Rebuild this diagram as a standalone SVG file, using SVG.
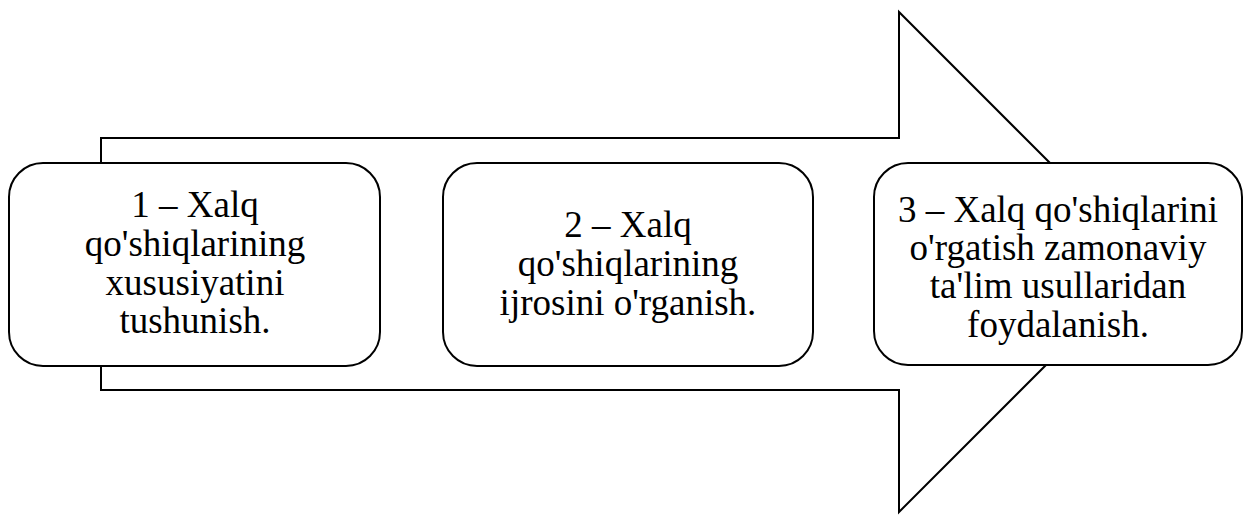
<svg xmlns="http://www.w3.org/2000/svg" width="1245" height="515" viewBox="0 0 1245 515">
<style>
.box{fill:#fff;stroke:#000;stroke-width:2}
.arrow{fill:#fff;stroke:#000;stroke-width:2}
text{font-family:"Liberation Serif","Times New Roman",serif;font-size:37px;fill:#000;text-anchor:middle}
</style>
<rect width="1245" height="515" fill="#fff"/>
<g id="connectors">
<polygon class="arrow" points="101,138 899,138 899,12 1149,262 899,512 899,390 101,390"/>
</g>
<g id="node1">
<rect class="box" x="9" y="163" width="371" height="203" rx="34" ry="34"/>
<text x="195" y="217">1 – Xalq</text>
<text x="195" y="256">qo'shiqlarining</text>
<text x="195" y="295">xususiyatini</text>
<text x="195" y="333">tushunish.</text>
</g>
<g id="node2">
<rect class="box" x="443" y="163" width="370" height="203" rx="34" ry="34"/>
<text x="628" y="237">2 – Xalq</text>
<text x="628" y="276">qo'shiqlarining</text>
<text x="628" y="315">ijrosini o'rganish.</text>
</g>
<g id="node3">
<rect class="box" x="874" y="163" width="368" height="202" rx="34" ry="34"/>
<text x="1058" y="222">3 – Xalq qo'shiqlarini</text>
<text x="1058" y="260">o'rgatish zamonaviy</text>
<text x="1058" y="298">ta'lim usullaridan</text>
<text x="1058" y="337">foydalanish.</text>
</g>
</svg>
